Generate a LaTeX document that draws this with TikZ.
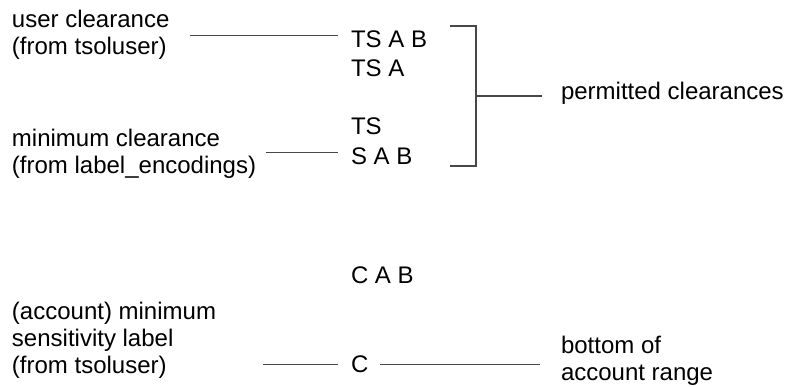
\documentclass[tikz,border=0pt]{standalone}
\usepackage{fontspec}
\setmainfont{Liberation Sans}
\begin{document}
\begin{tikzpicture}[x=1pt,y=-1pt,
  lbl/.style={inner sep=0pt, outer sep=0pt, align=left, anchor=north west,
              font=\fontsize{24}{27}\selectfont, text=black},
  val/.style={inner sep=0pt, outer sep=0pt, anchor=base west,
              font=\fontsize{24}{27}\selectfont, text=black},
  conn/.style={draw=black!72, line width=1.2pt}]
\useasboundingbox (0,0) rectangle (790,387);

% left labels
\node[lbl] (user)   at (12,10)  {user clearance\\(from tsoluser)};
\node[lbl] (minclr) at (12,129) {minimum clearance\\(from label\_encodings)};
\node[lbl] (acct)   at (12,302) {(account) minimum\\sensitivity label\\(from tsoluser)};

% label column
\node[val] (tsab) at (351,48)  {TS A B};
\node[val] (tsa)  at (351,77)  {TS A};
\node[val] (ts)   at (351,135) {TS};
\node[val] (sab)  at (351,165) {S A B};
\node[val] (cab)  at (351,284) {C A B};
\node[val] (c)    at (351,373) {C};

% right labels
\node[val] (perm)   at (561,100) {permitted clearances};
\node[lbl] (bottom) at (561,336) {bottom of\\account range};

% bracket
\coordinate (bt) at (476,26);
\coordinate (bb) at (476,166);
\coordinate (bm) at (476,96);
\draw[conn] ([xshift=-26pt]bt) -- (bt) -- (bb) -- ([xshift=-26pt]bb);
\draw[conn, shorten >=19pt] (bm) -- (bm -| perm.west);

% connectors
\coordinate (u1) at ([yshift=4pt]tsab.west);
\draw[conn, shorten <=21pt, shorten >=13pt] (user.east |- u1) -- (u1);
\coordinate (u2) at ([yshift=4pt]sab.west);
\draw[conn, shorten <=10pt, shorten >=13pt] (minclr.east |- u2) -- (u2);
\draw[conn, shorten <=47pt, shorten >=13pt] (acct.east |- c.west) -- (c.west);
\draw[conn, shorten <=12pt, shorten >=21pt] (c.east) -- (c.east -| bottom.west);
\end{tikzpicture}
\end{document}
